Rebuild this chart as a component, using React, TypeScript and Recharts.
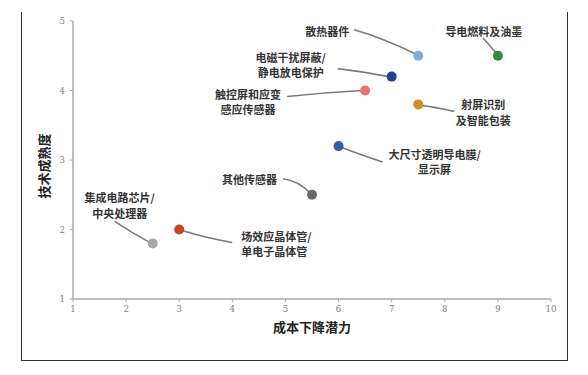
import React from 'react';
import { ScatterChart, Scatter, XAxis, YAxis } from 'recharts';

const names = [
  '集成电路芯片/中央处理器',
  '场效应晶体管/单电子晶体管',
  '其他传感器',
  '大尺寸透明导电膜/显示屏',
  '触控屏和应变感应传感器',
  '电磁干扰屏蔽/静电放电保护',
  '散热器件',
  '导电燃料及油墨',
  '射屏识别及智能包装',
];
const costPotential = [2.5, 3, 5.5, 6, 6.5, 7, 7.5, 9, 7.5];
const maturity = [1.8, 2, 2.5, 3.2, 4.0, 4.2, 4.5, 4.5, 3.8];
const xTicks = [1, 2, 3, 4, 5, 6, 7, 8, 9, 10];
const yTicks = [1, 2, 3, 4, 5];
const xTitle = '成本下降潜力';
const yTitle = '技术成熟度';

const data = names.map((name, i) => ({ name, x: costPotential[i], y: maturity[i] }));

type Layout = {
  color: string;
  lines: string[];
  tx: number;
  ty: number[];
  anchor: 'start' | 'middle' | 'end';
  from: [number, number];
  ctrl: [number, number];
  to: [number, number];
};

const layout: Record<string, Layout> = {
  '集成电路芯片/中央处理器': {
    color: '#a8a8a8', lines: ['集成电路芯片/', '中央处理器'], tx: -33, ty: [-46, -30], anchor: 'middle',
    from: [-38, -22], ctrl: [-20, -10], to: [-3, -1],
  },
  '场效应晶体管/单电子晶体管': {
    color: '#c4461f', lines: ['场效应晶体管/', '单电子晶体管'], tx: 62, ty: [6, 21.5], anchor: 'start',
    from: [53, 13], ctrl: [25, 8], to: [3, 1],
  },
  '其他传感器': {
    color: '#6a6a6a', lines: ['其他传感器'], tx: -35, ty: [-16], anchor: 'end',
    from: [-29, -16], ctrl: [-14, -14], to: [-2, -2],
  },
  '大尺寸透明导电膜/显示屏': {
    color: '#2f63a4', lines: ['大尺寸透明导电膜/', '显示屏'], tx: 96, ty: [7.5, 23], anchor: 'middle',
    from: [44, 16], ctrl: [20, 8], to: [2, 1],
  },
  '触控屏和应变感应传感器': {
    color: '#ea7070', lines: ['触控屏和应变', '感应传感器'], tx: -117, ty: [3, 18.5], anchor: 'middle',
    from: [-78, 6], ctrl: [-40, 2], to: [-3, 0],
  },
  '电磁干扰屏蔽/静电放电保护': {
    color: '#1f4190', lines: ['电磁干扰屏蔽/', '静电放电保护'], tx: -101, ty: [-20, -4.5], anchor: 'middle',
    from: [-54, -8], ctrl: [-28, -5], to: [-3, 0],
  },
  '散热器件': {
    color: '#78b0db', lines: ['散热器件'], tx: -91, ty: [-25], anchor: 'middle',
    from: [-64, -26], ctrl: [-36, -18], to: [-3, -2],
  },
  '导电燃料及油墨': {
    color: '#2f8c3e', lines: ['导电燃料及油墨'], tx: -14, ty: [-25], anchor: 'middle',
    from: [-15, -18], ctrl: [-8, -10], to: [-2, -3],
  },
  '射屏识别及智能包装': {
    color: '#d68b27', lines: ['射屏识别', '及智能包装'], tx: 65, ty: [0, 15.5], anchor: 'middle',
    from: [36, 7], ctrl: [18, 3], to: [3, 1],
  },
};

const Marker = (props: any) => {
  const { cx, cy, payload } = props;
  const l = layout[payload.name];
  if (!l) return null;
  return (
    <g>
      <path
        d={`M${cx + l.from[0]},${cy + l.from[1]} Q${cx + l.ctrl[0]},${cy + l.ctrl[1]} ${cx + l.to[0]},${cy + l.to[1]}`}
        stroke="#7a7a7a" strokeWidth={1.6} fill="none"
      />
      <circle cx={cx} cy={cy} r={5} fill={l.color} />
      {l.lines.map((t, i) => (
        <text
          key={i} x={cx + l.tx} y={cy + l.ty[i]} textAnchor={l.anchor} dominantBaseline="central"
          fontFamily="Noto Sans CJK SC" fontWeight={700} fontSize={11} fill="#333"
        >{t}</text>
      ))}
    </g>
  );
};

const tickStyle = { fontFamily: 'DejaVu Serif', fontSize: 8.5, fill: '#7c7c7c' };

export default function App() {
  return (
    <div style={{ position: 'absolute', left: 0, top: 0, width: 588, height: 375, background: '#fff' }}>
      <div style={{
        position: 'absolute', left: 21, top: 12, width: 545, height: 348,
        borderLeft: '1.5px solid #333', borderRight: '1.5px solid #333', borderBottom: '1.5px solid #333',
      }} />
      <div style={{ position: 'absolute', left: 0, top: 0 }}>
        <ScatterChart width={588} height={375} margin={{ top: 21, right: 37, left: 33, bottom: 36 }}>
          <XAxis
            type="number" dataKey="x" domain={[1, 10]} ticks={xTicks} interval={0}
            height={40} tickSize={3} tickMargin={4} tick={tickStyle}
            axisLine={{ stroke: '#aaa', strokeWidth: 1.5 }} tickLine={{ stroke: '#aaa' }}
            label={{
              content: (p: any) => {
                const vb = p.viewBox || {};
                return (
                  <text x={vb.x + vb.width / 2} y={vb.y + 27} textAnchor="middle" dominantBaseline="central"
                    fontFamily="Noto Sans CJK SC" fontWeight={700} fontSize={13} fill="#222">{xTitle}</text>
                );
              },
            }}
          />
          <YAxis
            type="number" dataKey="y" domain={[1, 5]} ticks={yTicks} interval={0}
            width={40} tickSize={3} tickMargin={5} tick={tickStyle}
            axisLine={{ stroke: '#aaa', strokeWidth: 1.5 }} tickLine={{ stroke: '#aaa' }}
            label={{
              content: (p: any) => {
                const vb = p.viewBox || {};
                const cx = 43;
                const cy = vb.y + vb.height / 2 + 6;
                return (
                  <text x={cx} y={cy} textAnchor="middle" dominantBaseline="central" transform={`rotate(-90 ${cx} ${cy})`}
                    fontFamily="Noto Sans CJK SC" fontWeight={700} fontSize={13} fill="#222">{yTitle}</text>
                );
              },
            }}
          />
          <Scatter data={data} shape={Marker} isAnimationActive={false} />
        </ScatterChart>
      </div>
    </div>
  );
}
